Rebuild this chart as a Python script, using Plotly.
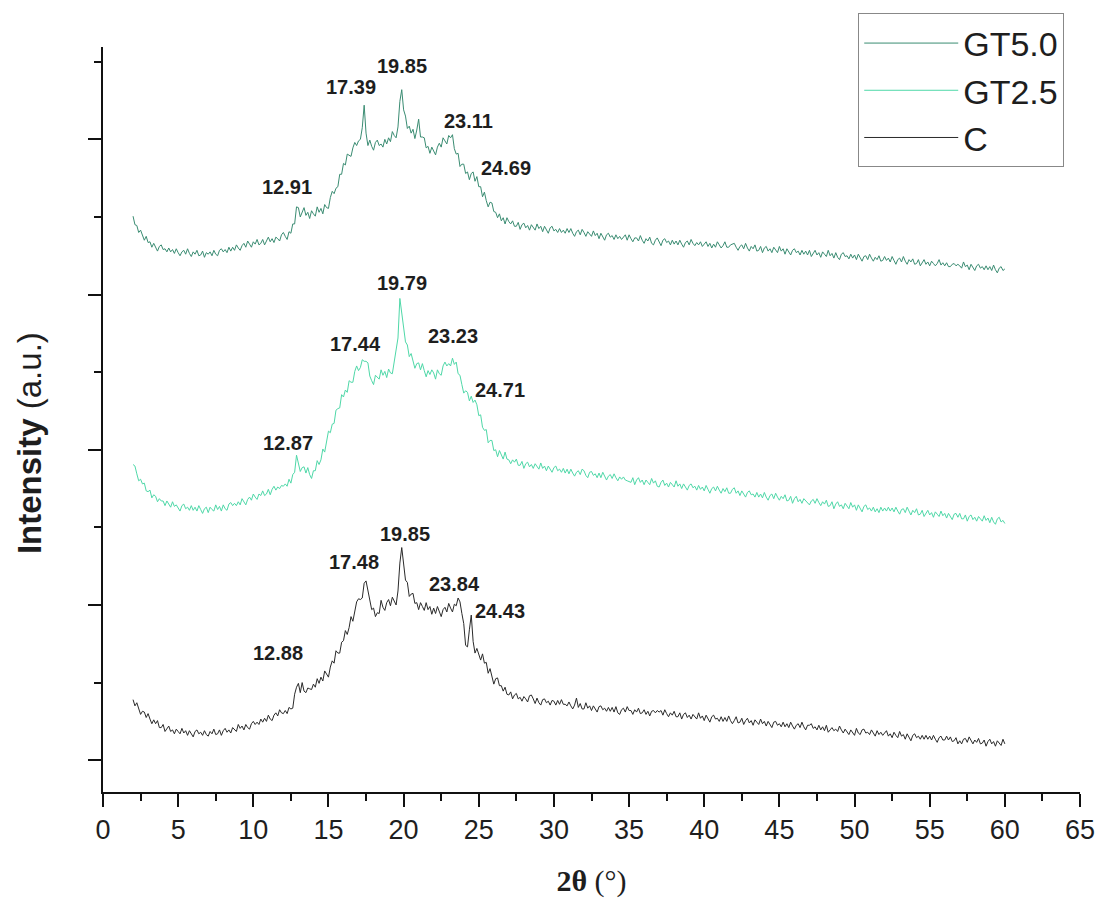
import numpy as np
import plotly.graph_objects as go

# 2-theta sample positions (degrees), 0.125 deg steps from 2 to 60
two_theta = np.round(np.arange(2.0, 60.0001, 0.125), 3)

# Intensity (a.u., vertically offset traces)
c_vals = [
    0.78, 0.70, 0.74, 0.66, 0.59, 0.63, 0.62, 0.55, 0.60, 0.53, 0.47, 0.52, 0.47, 0.51, 0.42, 0.42, 0.46, 0.37, 0.41, 0.44,
    0.37, 0.39, 0.34, 0.40, 0.37, 0.34, 0.41, 0.35, 0.38, 0.32, 0.38, 0.33, 0.30, 0.37, 0.39, 0.34, 0.36, 0.32, 0.38, 0.33,
    0.31, 0.37, 0.34, 0.40, 0.33, 0.34, 0.39, 0.32, 0.38, 0.41, 0.36, 0.39, 0.35, 0.42, 0.40, 0.37, 0.46, 0.41, 0.44, 0.39,
    0.46, 0.42, 0.40, 0.47, 0.50, 0.46, 0.49, 0.46, 0.53, 0.49, 0.54, 0.50, 0.58, 0.53, 0.51, 0.58, 0.61, 0.57, 0.65, 0.61,
    0.60, 0.64, 0.60, 0.68, 0.66, 0.67, 0.85, 0.94, 0.99, 0.87, 1.00, 0.89, 0.87, 0.93, 0.92, 0.91, 0.98, 0.94, 1.05, 0.99,
    1.07, 1.02, 1.15, 1.10, 1.07, 1.20, 1.28, 1.25, 1.41, 1.38, 1.38, 1.52, 1.54, 1.67, 1.62, 1.71, 1.85, 1.79, 1.94, 2.04,
    2.08, 2.07, 2.09, 2.28, 2.31, 2.17, 2.07, 1.94, 1.96, 1.85, 1.90, 1.89, 2.06, 1.97, 1.93, 2.03, 2.07, 1.99, 2.10, 2.05,
    2.00, 2.18, 2.54, 2.74, 2.48, 2.32, 2.29, 2.11, 2.14, 2.15, 2.02, 2.03, 1.94, 2.03, 1.98, 1.93, 2.03, 1.94, 1.98, 1.88,
    1.96, 1.89, 1.98, 1.91, 1.85, 1.94, 1.97, 1.91, 2.02, 1.96, 1.91, 2.01, 1.99, 2.09, 2.04, 1.89, 1.76, 1.48, 1.46, 1.68,
    1.87, 1.53, 1.38, 1.44, 1.37, 1.29, 1.37, 1.25, 1.26, 1.12, 1.18, 1.06, 0.98, 1.05, 1.06, 0.96, 0.96, 0.89, 0.94, 0.85,
    0.84, 0.88, 0.79, 0.84, 0.86, 0.79, 0.81, 0.76, 0.82, 0.79, 0.75, 0.83, 0.84, 0.79, 0.73, 0.80, 0.74, 0.71, 0.78, 0.79,
    0.74, 0.76, 0.71, 0.77, 0.76, 0.71, 0.77, 0.72, 0.78, 0.72, 0.72, 0.70, 0.75, 0.70, 0.66, 0.71, 0.80, 0.68, 0.73, 0.66,
    0.66, 0.74, 0.67, 0.70, 0.64, 0.70, 0.65, 0.62, 0.69, 0.70, 0.65, 0.67, 0.63, 0.68, 0.63, 0.68, 0.62, 0.69, 0.61, 0.59,
    0.65, 0.67, 0.62, 0.69, 0.64, 0.64, 0.59, 0.65, 0.62, 0.67, 0.60, 0.61, 0.65, 0.59, 0.63, 0.57, 0.63, 0.64, 0.61, 0.64,
    0.62, 0.64, 0.58, 0.65, 0.60, 0.56, 0.61, 0.58, 0.63, 0.56, 0.56, 0.61, 0.53, 0.59, 0.61, 0.55, 0.58, 0.53, 0.59, 0.56,
    0.53, 0.61, 0.54, 0.57, 0.51, 0.58, 0.53, 0.49, 0.56, 0.58, 0.53, 0.54, 0.50, 0.56, 0.50, 0.55, 0.50, 0.57, 0.51, 0.47,
    0.51, 0.56, 0.48, 0.49, 0.54, 0.46, 0.51, 0.54, 0.48, 0.51, 0.45, 0.52, 0.49, 0.46, 0.53, 0.47, 0.50, 0.44, 0.50, 0.45,
    0.42, 0.49, 0.50, 0.45, 0.47, 0.43, 0.49, 0.43, 0.47, 0.42, 0.49, 0.44, 0.40, 0.45, 0.47, 0.42, 0.49, 0.43, 0.39, 0.45,
    0.45, 0.47, 0.41, 0.43, 0.39, 0.45, 0.39, 0.43, 0.38, 0.45, 0.36, 0.39, 0.42, 0.38, 0.40, 0.37, 0.44, 0.39, 0.35, 0.40,
    0.37, 0.33, 0.39, 0.36, 0.32, 0.41, 0.35, 0.33, 0.39, 0.40, 0.35, 0.36, 0.33, 0.39, 0.35, 0.31, 0.38, 0.33, 0.36, 0.32,
    0.35, 0.38, 0.31, 0.34, 0.29, 0.36, 0.32, 0.29, 0.37, 0.31, 0.33, 0.27, 0.34, 0.29, 0.25, 0.32, 0.34, 0.29, 0.31, 0.27,
    0.32, 0.27, 0.32, 0.27, 0.31, 0.26, 0.32, 0.27, 0.23, 0.29, 0.31, 0.26, 0.26, 0.31, 0.26, 0.30, 0.24, 0.25, 0.29, 0.21,
    0.25, 0.21, 0.27, 0.28, 0.23, 0.30, 0.25, 0.21, 0.26, 0.23, 0.28, 0.21, 0.22, 0.26, 0.18, 0.24, 0.27, 0.21, 0.24, 0.18,
    0.25, 0.22, 0.19, 0.27, 0.21,
]

gt25_vals = [
    3.81, 3.79, 3.69, 3.60, 3.62, 3.56, 3.57, 3.47, 3.46, 3.48, 3.38, 3.42, 3.40, 3.33, 3.37, 3.34, 3.34, 3.28, 3.34, 3.30,
    3.26, 3.33, 3.27, 3.29, 3.25, 3.21, 3.28, 3.30, 3.24, 3.26, 3.22, 3.28, 3.22, 3.26, 3.21, 3.28, 3.23, 3.18, 3.24, 3.26,
    3.19, 3.26, 3.23, 3.21, 3.29, 3.23, 3.27, 3.21, 3.29, 3.24, 3.22, 3.30, 3.32, 3.28, 3.31, 3.28, 3.33, 3.29, 3.37, 3.33,
    3.29, 3.36, 3.39, 3.35, 3.43, 3.39, 3.36, 3.43, 3.41, 3.47, 3.41, 3.43, 3.49, 3.42, 3.49, 3.53, 3.48, 3.52, 3.50, 3.54,
    3.53, 3.56, 3.53, 3.62, 3.57, 3.68, 3.71, 3.93, 3.81, 3.72, 3.77, 3.78, 3.70, 3.77, 3.68, 3.63, 3.73, 3.73, 3.86, 3.81,
    3.87, 4.01, 3.97, 4.12, 4.24, 4.22, 4.33, 4.34, 4.51, 4.53, 4.54, 4.71, 4.68, 4.77, 4.74, 4.89, 4.87, 4.87, 5.01, 5.08,
    5.02, 5.06, 5.16, 5.14, 5.14, 5.12, 4.95, 4.89, 4.84, 4.96, 4.93, 4.91, 5.03, 4.96, 5.01, 4.93, 5.04, 4.99, 4.98, 5.15,
    5.28, 5.44, 5.95, 5.76, 5.59, 5.39, 5.35, 5.20, 5.24, 5.14, 5.05, 5.11, 5.12, 5.03, 5.11, 5.02, 4.94, 5.02, 4.97, 5.03,
    4.99, 4.91, 5.03, 4.98, 4.96, 5.08, 5.13, 5.08, 5.11, 5.08, 5.18, 5.10, 5.13, 4.98, 4.96, 4.84, 4.73, 4.76, 4.74, 4.63,
    4.69, 4.61, 4.64, 4.58, 4.44, 4.45, 4.29, 4.25, 4.26, 4.09, 4.12, 4.12, 3.99, 4.00, 3.91, 3.99, 3.93, 3.88, 3.97, 3.88,
    3.87, 3.82, 3.87, 3.84, 3.88, 3.80, 3.80, 3.85, 3.76, 3.82, 3.84, 3.78, 3.81, 3.76, 3.82, 3.78, 3.75, 3.83, 3.76, 3.79,
    3.73, 3.79, 3.74, 3.71, 3.77, 3.79, 3.73, 3.75, 3.71, 3.76, 3.70, 3.75, 3.69, 3.75, 3.70, 3.66, 3.71, 3.73, 3.68, 3.75,
    3.73, 3.67, 3.64, 3.71, 3.72, 3.67, 3.69, 3.64, 3.70, 3.64, 3.71, 3.65, 3.61, 3.66, 3.68, 3.63, 3.69, 3.64, 3.60, 3.65,
    3.62, 3.65, 3.61, 3.60, 3.59, 3.58, 3.64, 3.55, 3.61, 3.64, 3.58, 3.61, 3.55, 3.61, 3.58, 3.55, 3.63, 3.57, 3.60, 3.53,
    3.52, 3.58, 3.61, 3.54, 3.57, 3.52, 3.58, 3.55, 3.52, 3.60, 3.53, 3.56, 3.50, 3.56, 3.51, 3.48, 3.54, 3.56, 3.51, 3.53,
    3.48, 3.54, 3.49, 3.52, 3.47, 3.54, 3.49, 3.44, 3.50, 3.52, 3.47, 3.53, 3.48, 3.44, 3.50, 3.46, 3.51, 3.44, 3.44, 3.49,
    3.51, 3.44, 3.47, 3.41, 3.47, 3.42, 3.39, 3.45, 3.47, 3.42, 3.43, 3.39, 3.45, 3.39, 3.43, 3.38, 3.45, 3.39, 3.35, 3.41,
    3.43, 3.37, 3.44, 3.39, 3.35, 3.40, 3.37, 3.42, 3.34, 3.35, 3.40, 3.31, 3.37, 3.40, 3.33, 3.36, 3.31, 3.37, 3.34, 3.31,
    3.29, 3.34, 3.36, 3.31, 3.37, 3.32, 3.28, 3.33, 3.30, 3.35, 3.27, 3.28, 3.33, 3.24, 3.30, 3.33, 3.27, 3.29, 3.24, 3.31,
    3.28, 3.24, 3.32, 3.26, 3.29, 3.22, 3.29, 3.24, 3.20, 3.27, 3.29, 3.23, 3.25, 3.21, 3.26, 3.20, 3.24, 3.19, 3.26, 3.21,
    3.25, 3.21, 3.26, 3.21, 3.25, 3.20, 3.26, 3.21, 3.17, 3.23, 3.24, 3.19, 3.26, 3.21, 3.16, 3.22, 3.19, 3.24, 3.16, 3.17,
    3.22, 3.14, 3.19, 3.22, 3.16, 3.19, 3.13, 3.20, 3.17, 3.14, 3.21, 3.15, 3.18, 3.12, 3.18, 3.13, 3.10, 3.17, 3.18, 3.13,
    3.18, 3.11, 3.11, 3.16, 3.08, 3.14, 3.16, 3.10, 3.13, 3.08, 3.14, 3.11, 3.08, 3.15, 3.09, 3.12, 3.06, 3.13, 3.07, 3.04,
    3.11, 3.13, 3.07, 3.09, 3.05,
]

gt50_vals = [
    7.01, 6.90, 6.89, 6.80, 6.83, 6.77, 6.70, 6.75, 6.67, 6.68, 6.61, 6.66, 6.60, 6.56, 6.62, 6.64, 6.58, 6.59, 6.55, 6.60,
    6.55, 6.58, 6.53, 6.59, 6.54, 6.50, 6.55, 6.57, 6.52, 6.59, 6.53, 6.49, 6.55, 6.52, 6.57, 6.50, 6.51, 6.56, 6.48, 6.54,
    6.52, 6.55, 6.50, 6.57, 6.52, 6.50, 6.57, 6.59, 6.55, 6.58, 6.54, 6.61, 6.56, 6.61, 6.57, 6.64, 6.60, 6.57, 6.63, 6.66,
    6.61, 6.69, 6.65, 6.61, 6.68, 6.65, 6.71, 6.64, 6.66, 6.71, 6.64, 6.70, 6.74, 6.68, 6.72, 6.67, 6.74, 6.72, 6.69, 6.77,
    6.80, 6.75, 6.71, 6.81, 6.79, 6.91, 6.91, 7.13, 7.12, 7.00, 7.07, 7.12, 7.02, 7.06, 6.98, 7.08, 7.04, 7.01, 7.13, 7.06,
    7.11, 7.04, 7.16, 7.12, 7.11, 7.25, 7.33, 7.30, 7.37, 7.39, 7.55, 7.55, 7.69, 7.67, 7.81, 7.79, 7.78, 7.89, 7.96, 7.92,
    7.98, 8.00, 8.15, 8.44, 8.08, 7.92, 7.99, 7.91, 7.86, 7.96, 7.99, 7.92, 7.94, 7.90, 8.00, 7.94, 8.02, 7.97, 8.10, 8.05,
    8.02, 8.16, 8.49, 8.64, 8.38, 8.30, 8.14, 8.17, 8.08, 8.13, 8.01, 8.12, 8.26, 8.03, 8.03, 8.02, 7.89, 7.91, 7.82, 7.90,
    7.84, 7.80, 7.90, 7.95, 7.90, 8.02, 7.98, 7.94, 8.05, 8.02, 8.06, 7.88, 7.81, 7.82, 7.65, 7.68, 7.68, 7.56, 7.58, 7.48,
    7.56, 7.58, 7.46, 7.52, 7.39, 7.39, 7.26, 7.32, 7.21, 7.13, 7.19, 7.18, 7.07, 7.06, 6.99, 7.04, 6.95, 6.99, 6.91, 6.99,
    6.94, 6.91, 6.95, 6.88, 6.88, 6.93, 6.84, 6.90, 6.92, 6.86, 6.89, 6.83, 6.90, 6.87, 6.83, 6.91, 6.85, 6.88, 6.81, 6.88,
    6.83, 6.79, 6.86, 6.88, 6.82, 6.84, 6.80, 6.85, 6.80, 6.83, 6.79, 6.85, 6.80, 6.85, 6.79, 6.75, 6.81, 6.83, 6.77, 6.84,
    6.80, 6.75, 6.81, 6.78, 6.75, 6.82, 6.76, 6.79, 6.72, 6.79, 6.74, 6.70, 6.77, 6.79, 6.74, 6.76, 6.71, 6.77, 6.72, 6.75,
    6.71, 6.74, 6.77, 6.70, 6.77, 6.72, 6.68, 6.73, 6.73, 6.69, 6.76, 6.70, 6.66, 6.72, 6.69, 6.74, 6.66, 6.64, 6.70, 6.73,
    6.67, 6.63, 6.70, 6.72, 6.67, 6.69, 6.64, 6.70, 6.65, 6.69, 6.64, 6.70, 6.65, 6.61, 6.67, 6.69, 6.64, 6.71, 6.66, 6.63,
    6.67, 6.64, 6.68, 6.62, 6.65, 6.68, 6.62, 6.66, 6.60, 6.65, 6.61, 6.68, 6.64, 6.60, 6.63, 6.68, 6.61, 6.61, 6.64, 6.65,
    6.66, 6.61, 6.57, 6.62, 6.64, 6.59, 6.66, 6.60, 6.56, 6.62, 6.59, 6.64, 6.56, 6.57, 6.62, 6.54, 6.60, 6.62, 6.56, 6.59,
    6.54, 6.61, 6.57, 6.54, 6.62, 6.56, 6.59, 6.52, 6.59, 6.54, 6.51, 6.57, 6.59, 6.54, 6.56, 6.51, 6.57, 6.52, 6.56, 6.51,
    6.57, 6.49, 6.54, 6.57, 6.51, 6.54, 6.48, 6.55, 6.52, 6.49, 6.57, 6.50, 6.53, 6.47, 6.54, 6.48, 6.45, 6.52, 6.54, 6.49,
    6.50, 6.46, 6.52, 6.47, 6.51, 6.45, 6.52, 6.47, 6.43, 6.49, 6.50, 6.45, 6.52, 6.47, 6.43, 6.48, 6.45, 6.50, 6.43, 6.44,
    6.49, 6.44, 6.47, 6.42, 6.49, 6.44, 6.39, 6.45, 6.47, 6.42, 6.49, 6.43, 6.39, 6.45, 6.42, 6.46, 6.39, 6.40, 6.45, 6.37,
    6.42, 6.45, 6.39, 6.42, 6.37, 6.43, 6.40, 6.37, 6.40, 6.45, 6.38, 6.41, 6.37, 6.41, 6.36, 6.36, 6.39, 6.40, 6.37, 6.39,
    6.37, 6.34, 6.42, 6.36, 6.38, 6.32, 6.39, 6.34, 6.31, 6.37, 6.39, 6.34, 6.36, 6.32, 6.37, 6.32, 6.36, 6.31, 6.38, 6.32,
    6.28, 6.34, 6.36, 6.31, 6.33,
]

series_names = ["GT5.0", "GT2.5", "C"]

# Peak labels (text) per series
gt50_peaks = ["19.85", "17.39", "23.11", "24.69", "12.91"]
gt25_peaks = ["19.79", "17.44", "23.23", "24.71", "12.87"]
c_peaks = ["19.85", "17.48", "23.84", "24.43", "12.88"]

# label anchor positions (data coordinates)
gt50_lab_x = [19.87, 16.49, 24.30, 26.82, 12.25]
gt50_lab_y = [8.94, 8.68, 8.24, 7.63, 7.38]
gt25_lab_x = [19.87, 16.82, 23.31, 26.42, 12.32]
gt25_lab_y = [6.15, 5.36, 5.46, 4.77, 4.09]
c_lab_x = [20.07, 16.69, 23.38, 26.42, 11.66]
c_lab_y = [2.92, 2.56, 2.27, 1.92, 1.38]

colors = {"GT5.0": "#3a8c72", "GT2.5": "#4fd8a8", "C": "#2a2a2a"}

fig = go.Figure()
for name, vals in zip(series_names, [gt50_vals, gt25_vals, c_vals]):
    fig.add_trace(go.Scatter(
        x=two_theta, y=vals, mode="lines", name=name,
        line=dict(color=colors[name], width=1),
    ))

annos = []
for texts, xs, ys in [(gt50_peaks, gt50_lab_x, gt50_lab_y),
                      (gt25_peaks, gt25_lab_x, gt25_lab_y),
                      (c_peaks, c_lab_x, c_lab_y)]:
    for t, xx, yy in zip(texts, xs, ys):
        annos.append(dict(x=xx, y=yy, xref="x", yref="y", text="<b>%s</b>" % t,
                          showarrow=False, xanchor="center", yanchor="middle",
                          font=dict(family="Liberation Sans, Arial", size=20, color="#1e1e1e")))

# y-axis title (placed as rotated text left of the axis)
annos.append(dict(x=-0.0745, y=0.4686, xref="paper", yref="paper",
                  text="<b>Intensity</b> (a.u.)", textangle=-90, showarrow=False,
                  xanchor="center", yanchor="middle",
                  font=dict(family="Liberation Sans, Arial", size=33, color="#1e1e1e")))

axis_col = "#111111"
fig.update_layout(
    width=1107, height=904,
    margin=dict(l=103, r=24, t=47, b=108),
    paper_bgcolor="white", plot_bgcolor="white",
    showlegend=True,
    legend=dict(
        x=0.773, y=1.045, xanchor="left", yanchor="top",
        bgcolor="white", bordercolor="#888888", borderwidth=1,
        font=dict(family="Liberation Sans, Arial", size=34, color="#1e1e1e"),
        itemwidth=94, tracegroupgap=0,
    ),
    annotations=annos,
    xaxis=dict(
        range=[0, 65], tick0=0, dtick=5,
        showline=True, linecolor=axis_col, linewidth=2,
        ticks="outside", ticklen=13, tickwidth=2, tickcolor=axis_col,
        minor=dict(dtick=2.5, ticks="outside", ticklen=7, tickwidth=2, tickcolor=axis_col),
        tickfont=dict(family="Liberation Sans, Arial", size=27, color="#1e1e1e"),
        showgrid=False, zeroline=False,
        title=dict(text="<b>2θ</b> (°)", standoff=26,
                   font=dict(family="Liberation Serif, Times New Roman", size=30, color="#1e1e1e")),
    ),
    yaxis=dict(
        range=[-0.41, 9.19], tick0=0, dtick=2,
        showline=True, linecolor=axis_col, linewidth=2,
        ticks="outside", ticklen=13, tickwidth=2, tickcolor=axis_col,
        minor=dict(dtick=1, ticks="outside", ticklen=7, tickwidth=2, tickcolor=axis_col),
        showticklabels=False,
        showgrid=False, zeroline=False,
    ),
)

fig.write_html("out.html")
